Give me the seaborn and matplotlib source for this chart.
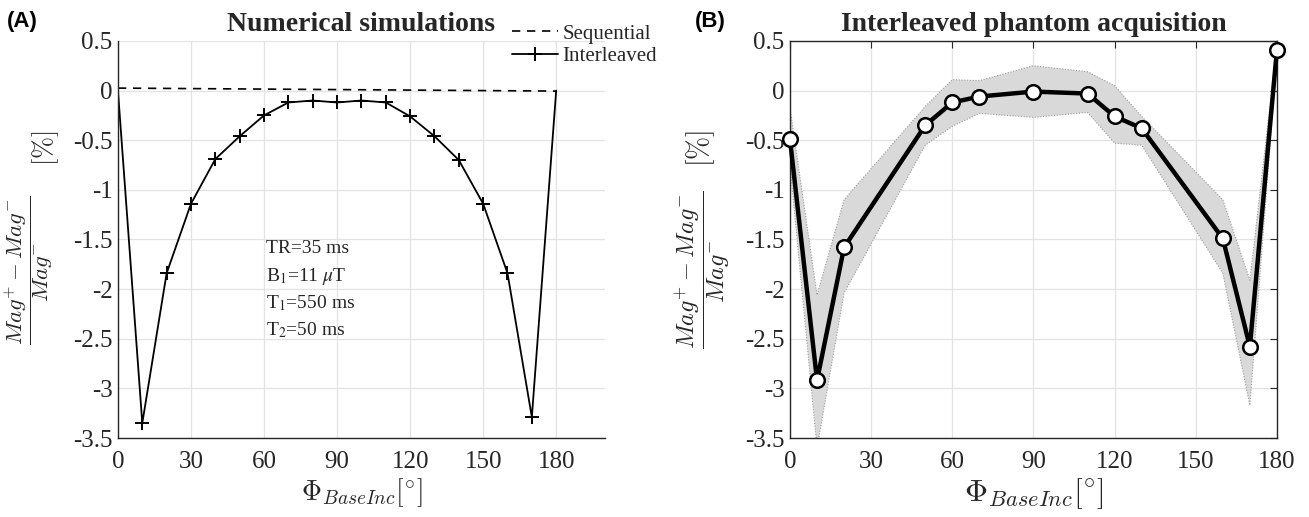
import matplotlib
matplotlib.use("Agg")
import matplotlib.pyplot as plt
import seaborn as sns
import numpy as np
import pandas as pd
from matplotlib.ticker import FuncFormatter

# ---------------- data ----------------
sim_phi = [0, 10, 20, 30, 40, 50, 60, 70, 80, 90, 100, 110, 120, 130, 140, 150, 160, 170, 180]
sim_interleaved = [0.0, -3.35, -1.84, -1.14, -0.69, -0.46, -0.25, -0.12, -0.10, -0.12, -0.10,
                   -0.12, -0.26, -0.46, -0.70, -1.14, -1.84, -3.29, 0.0]
seq_phi = [0, 180]
seq_values = [0.025, -0.005]

acq_phi = [0, 10, 20, 50, 60, 70, 90, 110, 120, 130, 160, 170, 180]
acq_mean = [-0.49, -2.92, -1.58, -0.35, -0.12, -0.06, -0.01, -0.03, -0.26, -0.38, -1.49, -2.58, 0.41]
acq_upper = [-0.17, -2.06, -1.10, -0.16, 0.11, 0.10, 0.25, 0.19, 0.05, -0.26, -1.10, -1.91, 0.46]
acq_lower = [-0.75, -3.60, -2.04, -0.55, -0.36, -0.23, -0.27, -0.22, -0.53, -0.55, -1.84, -3.17, 0.34]

x_ticks = [0, 30, 60, 90, 120, 150, 180]
y_ticks = [-3.5, -3, -2.5, -2, -1.5, -1, -0.5, 0, 0.5]
sim_params = ["TR=35 ms", r"B$_1$=11 $\mu$T", r"T$_1$=550 ms", r"T$_2$=50 ms"]

# ---------------- style ----------------
sns.set_theme(style="white")
SERIF = ["Liberation Serif", "DejaVu Serif"]
plt.rcParams["font.family"] = SERIF
plt.rcParams["axes.unicode_minus"] = False
plt.rcParams["mathtext.fontset"] = "stix"

SPINE = "#262626"
GRID = "#e3e3e3"

fig = plt.figure(figsize=(13.09, 5.17), dpi=100)
axA = fig.add_axes([0.0901, 0.1528, 0.372, 0.768])
axB = fig.add_axes([0.6035, 0.1528, 0.372, 0.768])

fmt = FuncFormatter(lambda v, p: "%g" % v)

def style_axes(ax, box):
    ax.set_ylim(-3.5, 0.5)
    ax.set_xticks(x_ticks)
    ax.set_yticks(y_ticks)
    ax.yaxis.set_major_formatter(fmt)
    ax.grid(True, color=GRID, lw=0.9)
    ax.set_axisbelow(True)
    for s in ax.spines.values():
        s.set_color(SPINE)
        s.set_linewidth(1.0)
    if not box:
        ax.spines["top"].set_visible(False)
        ax.spines["right"].set_visible(False)
    ax.tick_params(axis="both", direction="in", length=5, width=0.8, colors=SPINE,
                   labelsize=18, top=box, right=box, labelfontfamily="Liberation Serif")
    ax.tick_params(axis="x", pad=9)
    ax.tick_params(axis="y", pad=4)

# ---------------- panel A ----------------
dfA = pd.DataFrame({"phi": sim_phi, "val": sim_interleaved})
dfS = pd.DataFrame({"phi": seq_phi, "val": seq_values})
sns.lineplot(data=dfS, x="phi", y="val", ax=axA, color="black", lw=1.2,
             dashes=False, linestyle=(0, (5, 4)), label="Sequential")
sns.lineplot(data=dfA, x="phi", y="val", ax=axA, color="black", lw=1.3,
             marker="+", markersize=10, markeredgewidth=1.4, markeredgecolor="black",
             markevery=list(range(1, 18)), label="Interleaved")
axA.set_xlim(0, 200)
style_axes(axA, box=False)
axA.set_title("Numerical simulations", fontsize=20, fontweight="bold", pad=7)
leg = axA.legend(loc="upper right", bbox_to_anchor=(657 / 1309, 1 - 24 / 517),
                 bbox_transform=fig.transFigure, frameon=False, fontsize=15,
                 handlelength=2.2, handletextpad=0.2, labelspacing=0.15, borderpad=0,
                 borderaxespad=0)
for t in leg.get_texts():
    t.set_color(SPINE)

param_y = [-1.636, -1.918, -2.19, -2.462]
for txt, yy in zip(sim_params, param_y):
    axA.text(61, yy, txt, fontsize=14, va="baseline", ha="left", color=SPINE)

# ---------------- panel B ----------------
dfB = pd.DataFrame({"phi": acq_phi, "val": acq_mean})
axB.fill_between(acq_phi, acq_lower, acq_upper, facecolor="#d9d9d9", edgecolor="#9a9a9a",
                 linestyle=(0, (1, 1.5)), linewidth=0.8, zorder=1)
sns.lineplot(data=dfB, x="phi", y="val", ax=axB, color="black", lw=3.2,
             marker="o", markersize=10.5, markerfacecolor="white",
             markeredgecolor="black", markeredgewidth=1.8, clip_on=False, zorder=3)
axB.set_xlim(0, 180)
style_axes(axB, box=True)
axB.set_title("Interleaved phantom acquisition", fontsize=20, fontweight="bold", pad=7)

# ---------------- labels ----------------
ylab = r"$\dfrac{Mag^{+}-Mag^{-}}{Mag^{-}}$"
unit = r"$[\%]$"
xlab = r"$\Phi_{BaseInc}[^{\circ}]$"
for ax, ysz, xsz, ylx, ux, usz in [(axA, 16.5, 20, -0.129, -0.148, 19),
                                   (axB, 17.5, 23, -0.119, -0.183, 20)]:
    ax.set_ylabel(ylab, fontsize=ysz, color=SPINE, math_fontfamily="cm")
    ax.set_xlabel(xlab, fontsize=xsz, color=SPINE, math_fontfamily="cm")
    ax.yaxis.set_label_coords(ylx, 0.423)
    ax.xaxis.set_label_coords(0.5, -0.095)
    ax.xaxis.label.set_va("top")
    ax.text(ux, 0.730, unit, rotation=90, transform=ax.transAxes, ha="center",
            va="center", fontsize=usz, color=SPINE, math_fontfamily="cm")

fig.text(7 / 1309, 1 - 22 / 517, "(A)", fontsize=16, fontweight="bold",
         family="Liberation Sans", va="center", ha="left", color="black")
fig.text(695 / 1309, 1 - 22 / 517, "(B)", fontsize=16, fontweight="bold",
         family="Liberation Sans", va="center", ha="left", color="black")

fig.savefig("out.png", dpi=100)
